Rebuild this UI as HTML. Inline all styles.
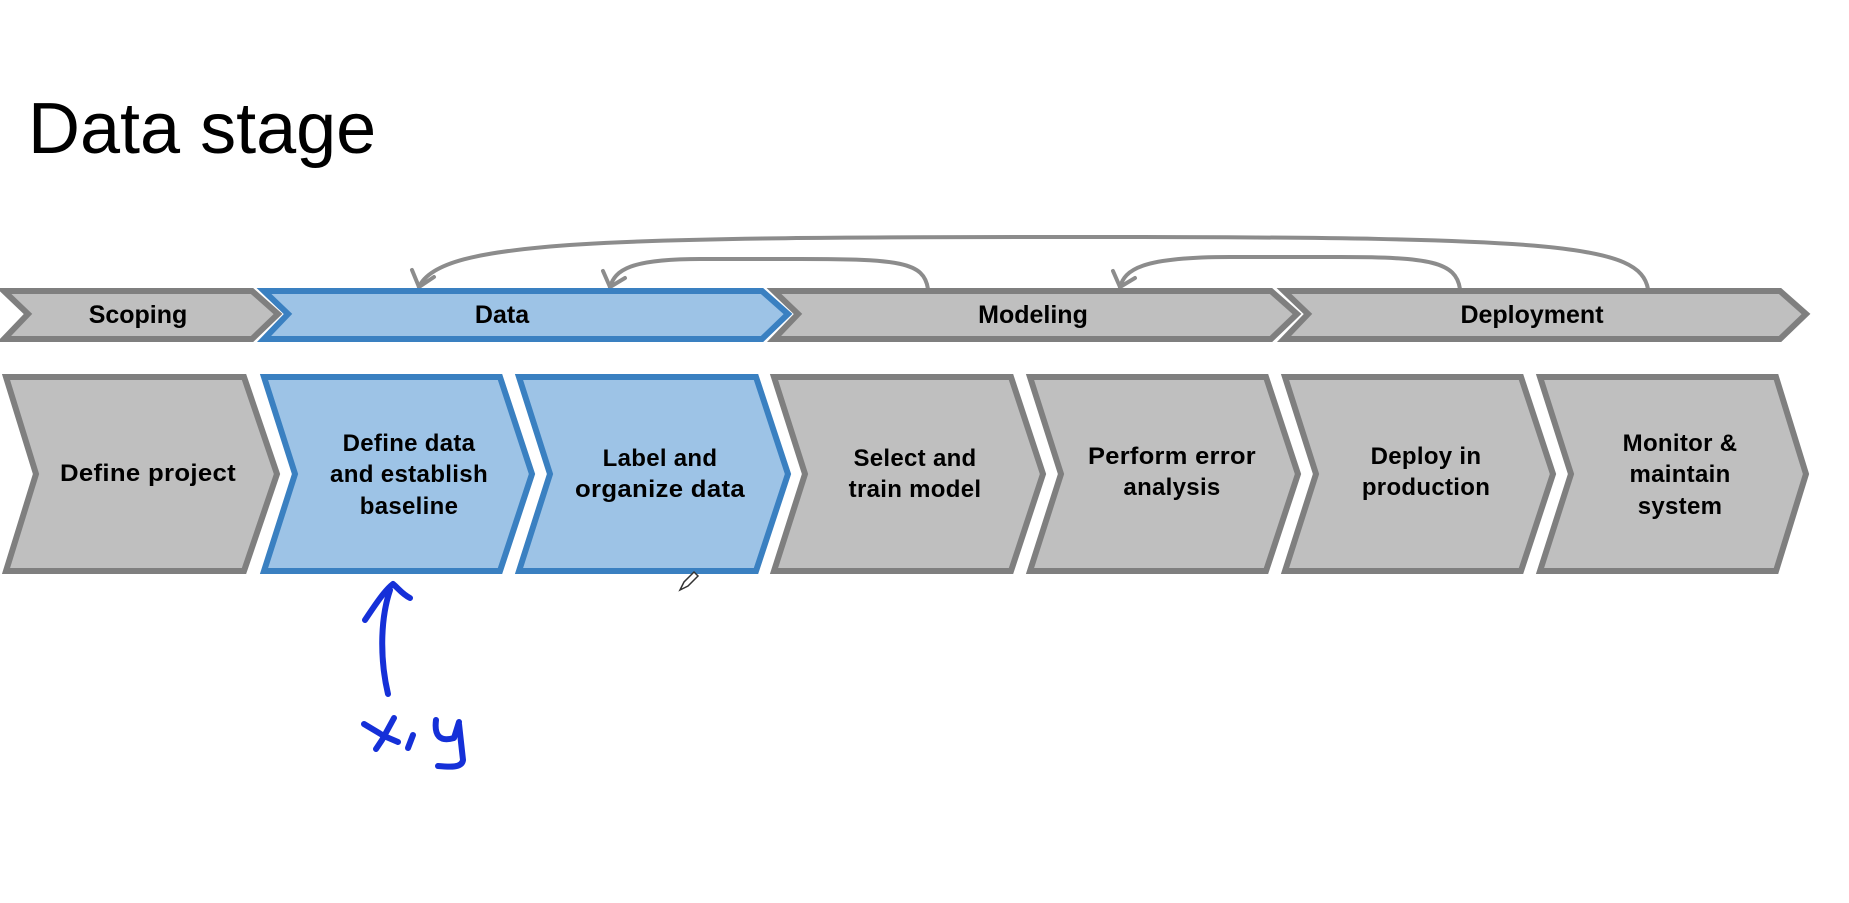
<!DOCTYPE html>
<html><head><meta charset="utf-8"><style>
html,body{margin:0;padding:0;background:#fff;}
svg{display:block;}
</style></head><body>
<svg width="1849" height="903" viewBox="0 0 1849 903" xmlns="http://www.w3.org/2000/svg">
<text x="28" y="153" font-family="Liberation Sans, sans-serif" font-size="72" fill="#000">Data stage</text>

<!-- curved arrows -->
<g fill="none" stroke="#8c8c8c" stroke-width="4" stroke-linecap="round">
<path d="M1648,289 C1640,245 1560,237 1100,237 C600,237 440,240 419,287"/>
<path d="M419,287 L412,270 M419,287 L434,277"/>
<path d="M928,289 C924,262 900,259 800,259 L700,259 C630,259 615,270 610,287"/>
<path d="M610,287 L603,271 M610,287 L625,278"/>
<path d="M1460,289 C1456,262 1430,257 1340,257 L1230,257 C1140,257 1125,270 1120,287"/>
<path d="M1120,287 L1113,271 M1120,287 L1135,278"/>
</g>

<!-- top bands -->
<g stroke-width="6" stroke-linejoin="miter">
<path d="M4,291 L252,291 L278,314 L252,339 L4,339 L28,314 Z" fill="#bfbfbf" stroke="#7f7f7f"/>
<path d="M264,291 L762,291 L788,314 L762,339 L264,339 L288,314 Z" fill="#9dc3e6" stroke="#3a80c1"/>
<path d="M774,291 L1271,291 L1297,314 L1271,339 L774,339 L798,314 Z" fill="#bfbfbf" stroke="#7f7f7f"/>
<path d="M1284,291 L1780,291 L1806,314 L1780,339 L1284,339 L1308,314 Z" fill="#bfbfbf" stroke="#7f7f7f"/>
</g>
<g font-family="Liberation Sans, sans-serif" font-weight="bold" font-size="25" fill="#000" text-anchor="middle">
<text x="138" y="323">Scoping</text>
<text x="502" y="323">Data</text>
<text x="1033" y="323">Modeling</text>
<text x="1532" y="323">Deployment</text>
</g>

<!-- bottom boxes -->
<g stroke-width="6">
<path d="M6,377 L244,377 L277,474 L244,571 L6,571 L36,474 Z" fill="#bfbfbf" stroke="#7f7f7f"/>
<path d="M264,377 L500,377 L532,474 L500,571 L264,571 L295,474 Z" fill="#9dc3e6" stroke="#3a80c1"/>
<path d="M519,377 L756,377 L788,474 L756,571 L519,571 L550,474 Z" fill="#9dc3e6" stroke="#3a80c1"/>
<path d="M774,377 L1011,377 L1043,474 L1011,571 L774,571 L805,474 Z" fill="#bfbfbf" stroke="#7f7f7f"/>
<path d="M1030,377 L1266,377 L1298,474 L1266,571 L1030,571 L1061,474 Z" fill="#bfbfbf" stroke="#7f7f7f"/>
<path d="M1285,377 L1521,377 L1553,474 L1521,571 L1285,571 L1316,474 Z" fill="#bfbfbf" stroke="#7f7f7f"/>
<path d="M1540,377 L1776,377 L1806,474 L1776,571 L1540,571 L1571,474 Z" fill="#bfbfbf" stroke="#7f7f7f"/>
</g>
<g font-family="Liberation Sans, sans-serif" font-weight="bold" font-size="24" fill="#000" text-anchor="middle" letter-spacing="0.3">
<text x="148" y="481" textLength="176" lengthAdjust="spacingAndGlyphs">Define project</text>
<text x="409" y="451">Define data</text>
<text x="409" y="482" textLength="158" lengthAdjust="spacingAndGlyphs">and establish</text>
<text x="409" y="514">baseline</text>
<text x="660" y="466">Label and</text>
<text x="660" y="497" textLength="170" lengthAdjust="spacingAndGlyphs">organize data</text>
<text x="915" y="466">Select and</text>
<text x="915" y="497">train model</text>
<text x="1172" y="464" textLength="168" lengthAdjust="spacingAndGlyphs">Perform error</text>
<text x="1172" y="495">analysis</text>
<text x="1426" y="464">Deploy in</text>
<text x="1426" y="495">production</text>
<text x="1680" y="451">Monitor &amp;</text>
<text x="1680" y="482">maintain</text>
<text x="1680" y="514">system</text>
</g>

<!-- pencil cursor -->
<path d="M680,590 L684,582 L694,572 L698,576 L688,586 Z" fill="#fff" stroke="#333" stroke-width="1.5"/>

<!-- handwriting -->
<g fill="none" stroke="#1530d8" stroke-width="6" stroke-linecap="round" stroke-linejoin="round">
<path d="M388,694 C380,660 380,620 390,590"/>
<path d="M365,620 C375,605 385,590 393,584 C398,588 402,594 410,598"/>
<path d="M364,724 L384,736 L398,742"/>
<path d="M394,718 L382,740 L376,749"/>
<path d="M413,735 L408,748"/>
<path d="M436,720 C434,736 440,742 454,738 L459,722 M459,724 L463,760 C462,768 450,767 438,766"/>
</g>
</svg>
</body></html>
